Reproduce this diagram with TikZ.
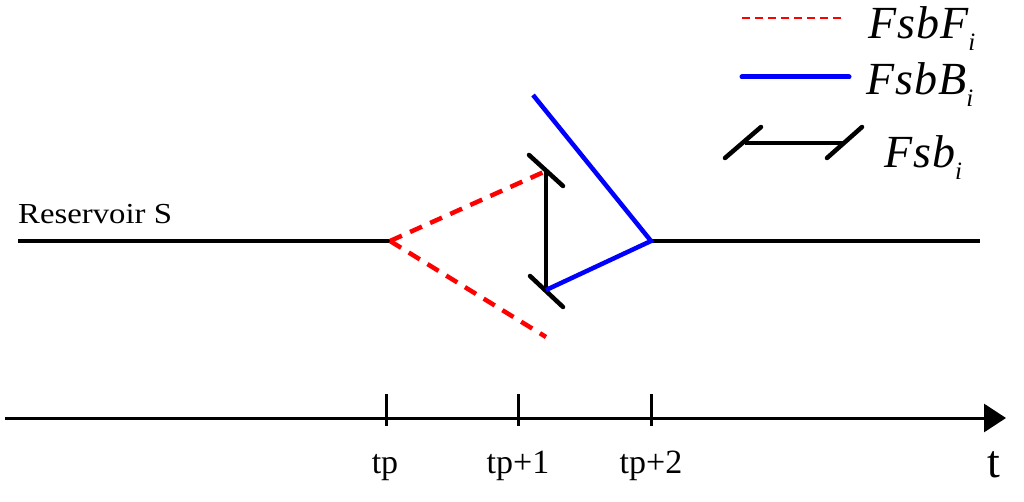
\documentclass[tikz,border=0pt]{standalone}
\usepackage{fontspec}
\IfFontExistsTF{LiberationSerif-Regular.ttf}{%
  \setmainfont{LiberationSerif}[Extension=.ttf,UprightFont=*-Regular,ItalicFont=*-Italic,BoldFont=*-Bold,BoldItalicFont=*-BoldItalic]}{%
  \setmainfont{Liberation Serif}}
\usetikzlibrary{arrows.meta}
\tikzset{
  blackline/.style={line width=4.5pt, black},
  reddash/.style={line width=4.5pt, red, dash pattern=on 13pt off 9pt},
  blueline/.style={line width=4.5pt, blue},
  barline/.style={line width=4.5pt, black, line cap=round},
  axisline/.style={line width=3pt, black},
  tickline/.style={line width=3pt, black},
  lbl/.style={inner sep=0pt, anchor=base, font=\fontsize{34}{38}\selectfont},
  leg/.style={inner sep=0pt, anchor=base west, font=\fontsize{46}{50}\selectfont\itshape},
}
\newcommand{\legsub}[1]{\raisebox{-12pt}{\fontsize{25}{27}\selectfont\itshape #1}}
\begin{document}
\begin{tikzpicture}[x=1pt,y=-1pt]
\useasboundingbox (0,0) rectangle (1024,502);
% coordinates
\coordinate (s0) at (18,241);
\coordinate (p) at (390,241);
\coordinate (fu) at (546,171);
\coordinate (fd) at (546,337);
\coordinate (bl) at (546,290);
\coordinate (bt) at (533,95);
\coordinate (q) at (651,241);
\coordinate (e) at (980,241);
\coordinate (b1a) at (529,155);
\coordinate (b1b) at (563,186);
\coordinate (b2a) at (530,276);
\coordinate (b2b) at (563,307);
% reservoir
\node[inner sep=0pt, anchor=base west, font=\fontsize{29}{32}\selectfont] (res) at (18,224) {\scalebox{1.13}[1]{Reservoir S}};
\draw[blackline] (s0) -- (p);
\draw[blackline] (q) -- (e);
% forward
\draw[reddash] (p) -- (fu);
\draw[reddash] (p) -- (fd);
% fsb bar
\draw[blackline] (fu) -- (bl);
\draw[barline] (b1a) -- (b1b);
\draw[barline] (b2a) -- (b2b);
% backward
\draw[blueline, line join=miter] (bt) -- (q) -- (bl);
% axis
\coordinate (a0) at (5,418);
\coordinate (a1) at (1006,418);
\draw[axisline, -{Triangle[length=22pt,width=28pt]}] (a0) -- (a1);
\coordinate (t0a) at (386,394); \coordinate (t0b) at (386,426);
\coordinate (t1a) at (518,394); \coordinate (t1b) at (518,426);
\coordinate (t2a) at (651,394); \coordinate (t2b) at (651,426);
\draw[tickline] (t0a) -- (t0b);
\draw[tickline] (t1a) -- (t1b);
\draw[tickline] (t2a) -- (t2b);
\node[lbl] (l0) at (385,473) {tp};
\node[lbl] (l1) at (518,473) {tp+1};
\node[lbl] (l2) at (651,473) {tp+2};
\node[lbl, font=\fontsize{46}{50}\selectfont] (lt) at (994,477) {t};
% legend
\coordinate (r1) at (742,18); \coordinate (r2) at (844,18);
\draw[line width=1.5pt, red, dash pattern=on 8pt off 5pt] (r1) -- (r2);
\coordinate (g1) at (742,77); \coordinate (g2) at (849,77);
\draw[line width=5pt, blue, line cap=round] (g1) -- (g2);
\coordinate (k1) at (745,143); \coordinate (k2) at (843,143);
\coordinate (k3) at (725,158); \coordinate (k4) at (761,127);
\coordinate (k5) at (827,158); \coordinate (k6) at (862,127);
\draw[line width=4pt, black] (k1) -- (k2);
\draw[barline] (k3) -- (k4);
\draw[barline] (k5) -- (k6);
\node[leg] (lf) at (868,39) {F\kern1pt s\kern1pt b\kern1pt F\legsub{i}};
\node[leg] (lb) at (866,95) {F\kern1pt s\kern1pt b\kern1pt B\legsub{i}};
\node[leg] (lk) at (884,168) {F\kern1pt s\kern1pt b\legsub{i}};
\end{tikzpicture}
\end{document}
